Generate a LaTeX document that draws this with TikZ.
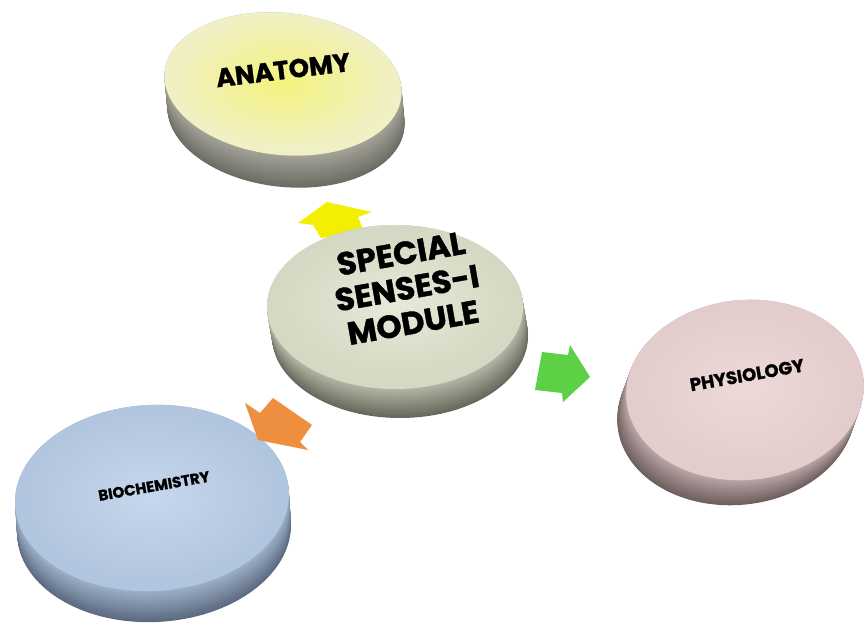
\documentclass[tikz,border=0pt]{standalone}
\usepackage{fontspec}
\setmainfont{Poppins}[BoldFeatures={FakeBold=1.2}]

% disk colours
\definecolor{anaCore}{HTML}{F3F37E}
\definecolor{anaRim}{HTML}{F1EFC4}
\definecolor{anaSideL}{HTML}{A3A398}
\definecolor{anaSideD}{HTML}{6C6C64}
\definecolor{modCore}{HTML}{E6EADA}
\definecolor{modRim}{HTML}{D3D9C2}
\definecolor{modSideL}{HTML}{B3B6A5}
\definecolor{modSideD}{HTML}{66685B}
\definecolor{phyCore}{HTML}{EED9D9}
\definecolor{phyRim}{HTML}{E2CCCC}
\definecolor{phySideL}{HTML}{B9A5A5}
\definecolor{phySideD}{HTML}{6E5E5E}
\definecolor{bioCore}{HTML}{C6D7ED}
\definecolor{bioRim}{HTML}{B2C5DE}
\definecolor{bioSideL}{HTML}{9DB0C9}
\definecolor{bioSideD}{HTML}{5C6A7F}
% arrow colours
\definecolor{arrYellow}{HTML}{F4EF00}
\definecolor{arrGreen}{HTML}{5DD046}
\definecolor{arrOrange}{HTML}{EE8F3F}

\begin{document}
\begin{tikzpicture}[x=1pt,y=-1pt,
		disktext/.style={inner sep=0pt,text=black,align=center}]
		
		\useasboundingbox (0,0) rectangle (864,628);
		
		%arrow behind the module disk
		\fill[arrYellow] (298,223) -- (327,202) -- (372,212) -- (358,217) -- (364,232) -- (321,238) -- (313,225) -- cycle;
		
		%disks: side first, then top face
		\foreach \cx/\cy/\rx/\ry/\tilt/\dx/\dy/\lite/\dark/\rim/\core in {
			283/84/119/71/-6/3/32/anaSideL/anaSideD/anaRim/anaCore,
			395/307/128/82/0/5/29/modSideL/modSideD/modRim/modCore,
			745/390/119/90/5/-9/25/phySideL/phySideD/phyRim/phyCore,
			152/498/137/93/3/2/31/bioSideL/bioSideD/bioRim/bioCore}
		{
			\foreach \k in {32,...,0}{
				\pgfmathtruncatemacro\mix{100*\k/32}
				\fill[\dark!\mix!\lite, shift={(\cx+\dx*\k/32,\cy+\dy*\k/32)}, rotate=\tilt] (0,0) ellipse [x radius=\rx, y radius=\ry];
			}
			\fill[\rim, shift={(\cx,\cy)}, rotate=\tilt] (0,0) ellipse [x radius=\rx, y radius=\ry];
			\shade[inner color=\core, outer color=\rim, shift={(\cx,\cy-3)}, rotate=\tilt] (0,0) ellipse [x radius=\rx-9, y radius=\ry-9];
		}
		
		%labels
		\node[disktext, rotate=7, font=\bfseries\fontsize{26}{28}\selectfont] (anatomy) at (283,70) {ANATOMY};
		\node[disktext, rotate=10, font=\bfseries\fontsize{32}{35}\selectfont] (module) at (407,288) {SPECIAL\\SENSES-I\\MODULE};
		\node[disktext, rotate=10, font=\bfseries\fontsize{18}{20}\selectfont] (physiology) at (747,375) {PHYSIOLOGY};
		\node[disktext, rotate=10, font=\bfseries\fontsize{15}{17}\selectfont] (biochemistry) at (154,486) {BIOCHEMISTRY};
		
		%arrows in front
		\fill[arrOrange] (245,403) -- (260,413) -- (273,398) -- (312,425) -- (300,442) -- (308,450) -- (258,440) -- cycle;
		\fill[arrGreen] (542,352) -- (568,355) -- (570,345) -- (590,377) -- (563,402) -- (562,393) -- (535,390) -- cycle;
		
\end{tikzpicture}
\end{document}
